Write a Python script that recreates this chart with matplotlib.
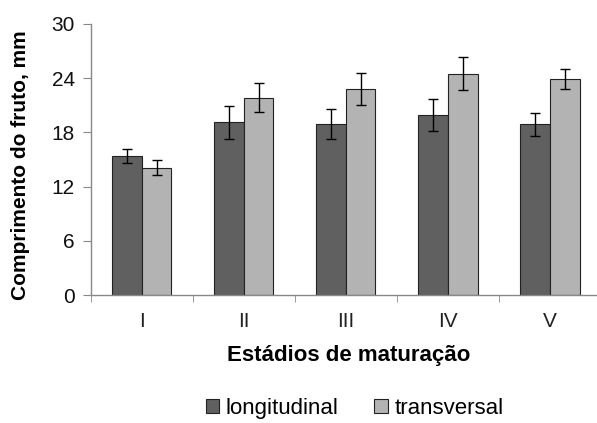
import matplotlib.pyplot as plt
import numpy as np

plt.rcParams['font.family'] = ['Liberation Sans', 'DejaVu Sans']

# Estadios de maturacao
stages = ['I', 'II', 'III', 'IV', 'V']

# Comprimento do fruto (mm) e desvio
longitudinal = [15.4, 19.1, 18.9, 19.9, 18.9]
longitudinal_err = [0.75, 1.85, 1.65, 1.75, 1.3]
transversal = [14.1, 21.85, 22.8, 24.5, 23.9]
transversal_err = [0.8, 1.6, 1.8, 1.85, 1.07]

fig = plt.figure(figsize=(5.97, 4.23), dpi=100)
ax = fig.add_axes([0.152, 0.3026, 1.0067 - 0.152, 0.6407])

x = np.arange(len(stages))
w = 0.29
ax.bar(x - w / 2, longitudinal, w, yerr=longitudinal_err, color='#606060',
       edgecolor='#222222', linewidth=0.8, label='longitudinal',
       error_kw=dict(ecolor='black', elinewidth=1, capsize=3.8, capthick=1))
ax.bar(x + w / 2, transversal, w, yerr=transversal_err, color='#b3b3b3',
       edgecolor='#222222', linewidth=0.8, label='transversal',
       error_kw=dict(ecolor='black', elinewidth=1, capsize=3.8, capthick=1))

ax.set_xlim(-0.5, 4.5)
ax.set_ylim(0, 30)
ax.set_yticks([0, 6, 12, 18, 24, 30])
ax.set_xticks(x)
ax.set_xticklabels(stages)
ax.set_xticks(np.arange(-0.5, 5, 1), minor=True)
ax.tick_params(axis='x', which='major', length=0, pad=12, labelsize=15, colors='#222222')
ax.tick_params(axis='x', which='minor', length=5, color='#888888', direction='out')
ax.tick_params(axis='y', length=5.5, color='#888888', labelsize=15, pad=6, labelcolor='#111111')

for s in ['top', 'right']:
    ax.spines[s].set_visible(False)
for s in ['left', 'bottom']:
    ax.spines[s].set_color('#888888')
    ax.spines[s].set_linewidth(1)

ax.set_ylabel('Comprimento do fruto, mm', fontsize=15, fontweight='bold')
ax.yaxis.set_label_coords(-0.12, 0.48)
ax.set_xlabel('Estádios de maturação', fontsize=16, fontweight='bold')
ax.xaxis.set_label_coords(0.506, -0.185)

fig.legend(loc='center', bbox_to_anchor=(0.594, 0.035), ncol=2, frameon=False,
           fontsize=16, handlelength=0.6, handleheight=0.6, handletextpad=0.3,
           columnspacing=1.6, borderpad=0.2)

plt.savefig('out.png', dpi=100)
